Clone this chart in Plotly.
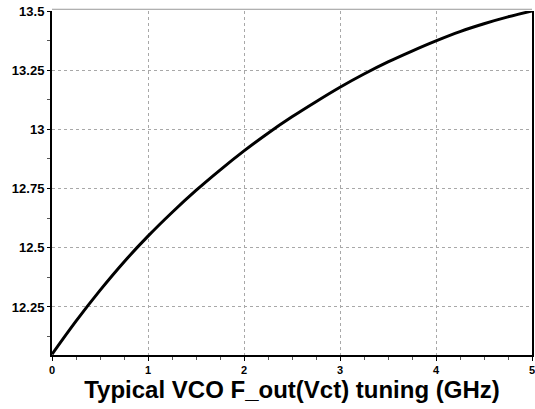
import plotly.graph_objects as go

vct = [0, 0.25, 0.5, 0.75, 1, 1.25, 1.5, 1.75, 2, 2.25, 2.5, 2.75, 3,
       3.25, 3.5, 3.75, 4, 4.25, 4.5, 4.75, 5]
fout = [12.05, 12.19, 12.32, 12.44, 12.549, 12.649, 12.742, 12.828, 12.909,
        12.984, 13.053, 13.117, 13.178, 13.234, 13.285, 13.331, 13.374, 13.413,
        13.446, 13.475, 13.5]

x_ticks = [0, 1, 2, 3, 4, 5]
y_ticks = [12.25, 12.5, 12.75, 13, 13.25, 13.5]
y_labels = ["12.25", "12.5", "12.75", "13", "13.25", "13.5"]

FONT = "Liberation Sans, Arial, sans-serif"

fig = go.Figure()
fig.add_trace(go.Scatter(x=vct, y=fout, mode="lines",
                         line=dict(color="black", width=3, shape="spline"),
                         showlegend=False, hoverinfo="skip"))

fig.update_layout(
    width=535, height=409,
    margin=dict(l=52, r=3, t=11, b=54),
    paper_bgcolor="white", plot_bgcolor="white",
    font=dict(family=FONT, color="black"),
    xaxis=dict(
        range=[0, 5], tickvals=x_ticks, ticktext=["<b>%d</b>" % v for v in x_ticks],
        automargin=False, ticklabeloverflow="allow",
        showline=True, linecolor="black", linewidth=2, mirror=False,
        showgrid=True, gridcolor="#a8a8a8", griddash="3px,3px", gridwidth=1,
        ticks="outside", ticklen=4, tickcolor="black",
        minor=dict(dtick=0.25, tick0=0, ticks="outside", ticklen=3, tickcolor="#555", showgrid=False),
        tickfont=dict(size=11, family=FONT),
        zeroline=False,
        title=dict(text="<b>Typical VCO F_out(Vct) tuning (GHz)</b>",
                   font=dict(size=24, family=FONT),
                   standoff=2),
    ),
    yaxis=dict(
        range=[12.047, 13.5], tickvals=y_ticks, ticktext=["<b>%s</b>" % s for s in y_labels],
        automargin=False, ticklabeloverflow="allow",
        showline=True, linecolor="black", linewidth=2, mirror=True,
        showgrid=True, gridcolor="#a8a8a8", griddash="3px,3px", gridwidth=1,
        ticks="outside", ticklen=3, tickcolor="black",
        minor=dict(dtick=0.125, tick0=12.0, ticks="outside", ticklen=3, tickcolor="#555", showgrid=False),
        tickfont=dict(size=13, family=FONT),
        zeroline=False,
    ),
    shapes=[dict(type="line", xref="paper", yref="paper", x0=0, x1=1, y0=1.005, y1=1.005,
                 line=dict(color="#999999", width=1))],
)

fig.write_html("out.html",
               config={"displayModeBar": False, "staticPlot": True},
               post_script="document.body.style.margin='0';document.body.style.overflow='hidden';")
